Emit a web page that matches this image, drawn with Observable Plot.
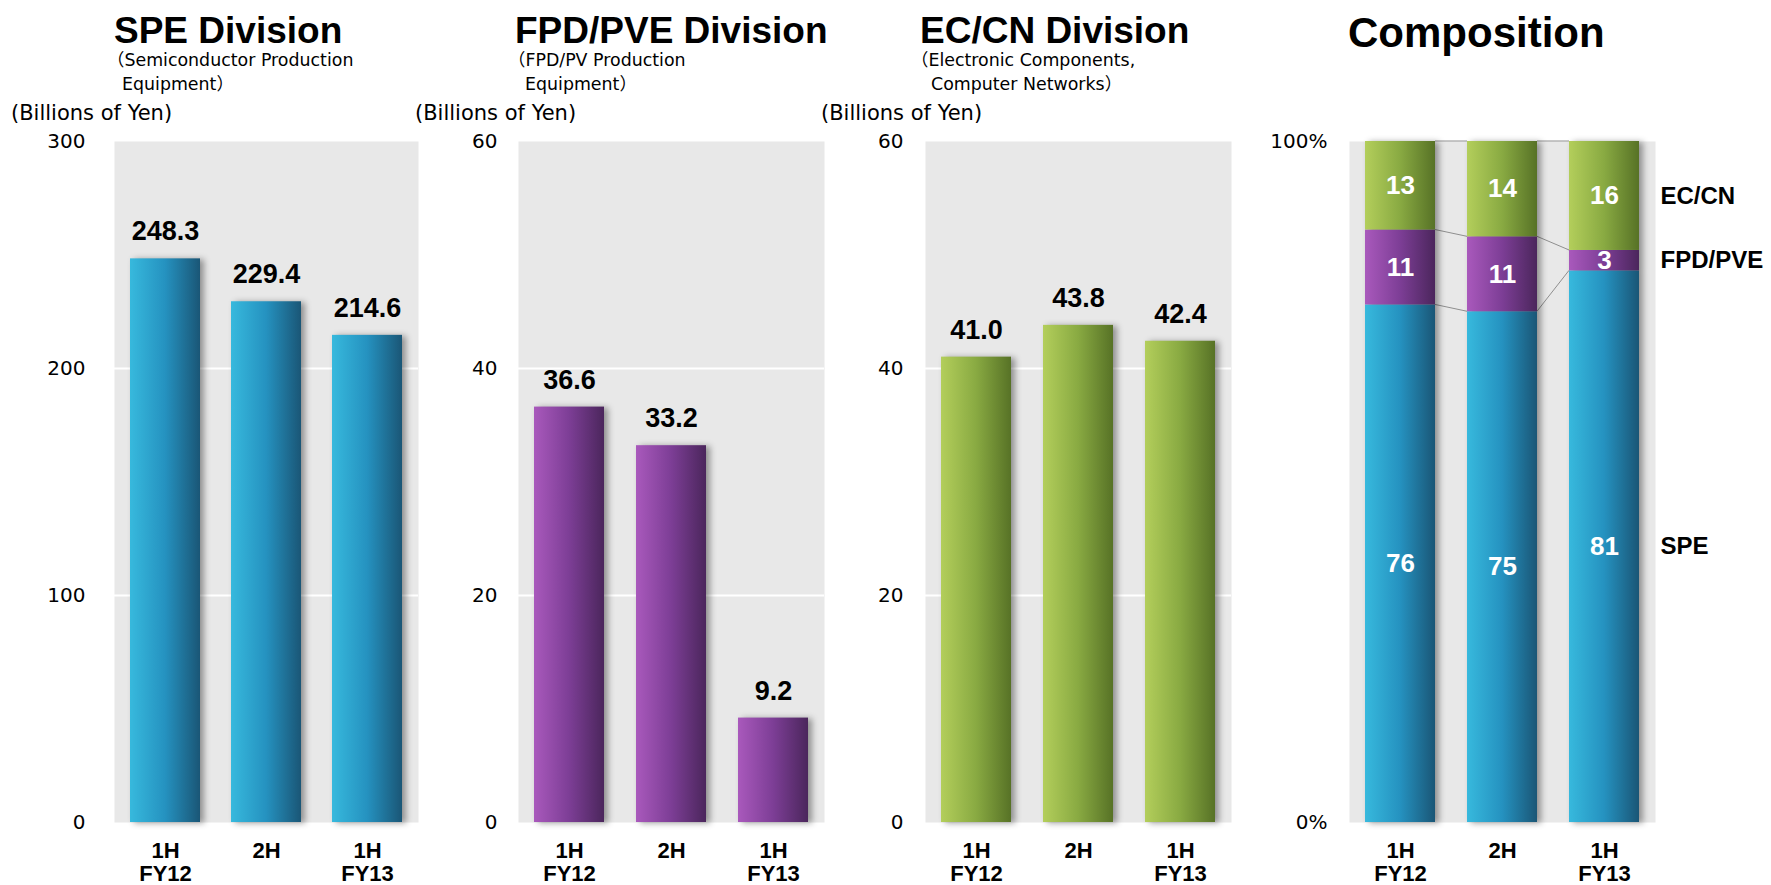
<!DOCTYPE html>
<html><head><meta charset="utf-8">
<script src="https://cdn.jsdelivr.net/npm/d3@7"></script>
<script src="https://cdn.jsdelivr.net/npm/@observablehq/plot@0.6"></script>
<style>
body{margin:0;background:#fff;}
#root{position:relative;width:1771px;height:885px;overflow:hidden;font-family:"Liberation Sans",Arial,sans-serif;color:#000;}
.abs{position:absolute;white-space:pre;}
.title{font-weight:bold;font-size:37px;line-height:1;}
.sub{font-family:"DejaVu Sans","Noto Sans CJK JP",sans-serif;font-size:17.4px;line-height:1;}
.unit{font-family:"DejaVu Sans",sans-serif;font-size:21px;line-height:1;}
</style></head><body><div id="root"></div>
<script>
// ---- data ----
const periods = ["1H\nFY12", "2H", "1H\nFY13"];
const speValues = [248.3, 229.4, 214.6];
const fpdValues = [36.6, 33.2, 9.2];
const ecValues = [41.0, 43.8, 42.4];
const speTicks = [0, 100, 200, 300];
const fpdTicks = [0, 20, 40, 60];
const ecTicks = [0, 20, 40, 60];
const divisions = ["SPE", "FPD/PVE", "EC/CN"];
const speShare = [76, 75, 81];
const fpdShare = [11, 11, 3];
const ecShare = [13, 14, 16];
const shareTicks = [0, 100];

// ---- styles ----
const gradients = {
  gSPE: ["#37b9dd", "#2592c0", "#1a5676"],
  gFPD: ["#a959bc", "#7d3e96", "#4b265c"],
  gEC: ["#b3ce5b", "#89aa42", "#577226"]
};
const root = d3.select("#root");
const defs = root.append("svg").attr("width", 0).attr("height", 0)
  .style("position", "absolute").append("defs");
for (const [id, cs] of Object.entries(gradients)) {
  const lg = defs.append("linearGradient").attr("id", id)
    .attr("x1", 0).attr("x2", 1).attr("y1", 0).attr("y2", 0);
  cs.forEach((c, i) => lg.append("stop").attr("offset", i / (cs.length - 1)).attr("stop-color", c));
}

function addText(cls, text, left, top, extra = {}) {
  const d = root.append("div").attr("class", "abs " + cls).style("left", left + "px").style("top", top + "px").text(text);
  for (const k in extra) d.style(k, extra[k]);
}

const ML = 100, MT = 21, MB = 63, H = 765, TOP = 120;
const svgStyle = {fontFamily: "DejaVu Sans", fontSize: "20px", background: "transparent", overflow: "visible", maxWidth: "none"};
const shadow = "drop-shadow(4px 1px 3px rgba(0,0,0,0.38))";

function place(svg, left) {
  d3.select(svg).selectAll('g[aria-label="bar"]').style("filter", shadow);
  root.append("div").style("position", "absolute").style("left", left + "px").style("top", TOP + "px")
    .node().appendChild(svg);
}

function xAxis() {
  return Plot.axisX({tickSize: 0, tickPadding: 19, fontSize: 22, fontWeight: "bold",
    fontFamily: "Liberation Sans", lineHeight: 1.04, label: null});
}

function divisionPanel(values, ticks, grad, frameLeft, frameWidth, tickPad) {
  const data = periods.map((p, i) => ({period: p, value: values[i]}));
  const svg = Plot.plot({
    width: ML + frameWidth, height: H,
    marginLeft: ML, marginRight: 0, marginTop: MT, marginBottom: MB,
    style: svgStyle,
    x: {domain: periods, paddingInner: 0.31, paddingOuter: 0.155, label: null},
    y: {domain: [ticks[0], ticks[ticks.length - 1]], label: null},
    marks: [
      Plot.frame({fill: "#e8e8e8", stroke: "none"}),
      Plot.gridY(ticks.slice(1, -1), {stroke: "white", strokeOpacity: 1, strokeWidth: 2}),
      Plot.axisY(ticks, {tickSize: 0, tickPadding: tickPad, fontSize: 20, label: null}),
      xAxis(),
      Plot.barY(data, {x: "period", y: "value", fill: `url(#${grad})`}),
      Plot.text(data, {x: "period", y: "value", text: d => d.value.toFixed(1), dy: -27,
        fontSize: 27, fontWeight: "bold", fontFamily: "Liberation Sans", fill: "black"})
    ]
  });
  place(svg, frameLeft - ML);
}

divisionPanel(speValues, speTicks, "gSPE", 114, 304, 29);
divisionPanel(fpdValues, fpdTicks, "gFPD", 518, 306, 21);
divisionPanel(ecValues, ecTicks, "gEC", 925, 306, 22);

// composition
const comp = periods.flatMap((p, i) => [
  {period: p, division: "SPE", share: speShare[i]},
  {period: p, division: "FPD/PVE", share: fpdShare[i]},
  {period: p, division: "EC/CN", share: ecShare[i]}
]);
function connectors(index, scales) {
  const x = scales.x, y = scales.y;
  const bw = x.bandwidth ? x.bandwidth() : 0;
  const g = d3.create("svg:g").attr("fill", "none").attr("stroke", "#8f8f8f").attr("stroke-width", 1);
  for (let i = 0; i < periods.length - 1; i++) {
    const a = [speShare[i] + fpdShare[i] + ecShare[i], speShare[i] + fpdShare[i], speShare[i]];
    const b = [speShare[i + 1] + fpdShare[i + 1] + ecShare[i + 1], speShare[i + 1] + fpdShare[i + 1], speShare[i + 1]];
    for (let k = 0; k < 3; k++) {
      g.append("line").attr("x1", x(periods[i]) + bw).attr("x2", x(periods[i + 1]))
        .attr("y1", y(a[k])).attr("y2", y(b[k]));
    }
  }
  return g.node();
}
const compSvg = Plot.plot({
  width: ML + 306 + 116, height: H,
  marginLeft: ML, marginRight: 116, marginTop: MT, marginBottom: MB,
  style: svgStyle,
  x: {domain: periods, paddingInner: 0.31, paddingOuter: 0.155, label: null},
  y: {domain: [0, 100], label: null},
  color: {domain: divisions, range: ["url(#gSPE)", "url(#gFPD)", "url(#gEC)"]},
  marks: [
    Plot.frame({fill: "#e8e8e8", stroke: "none"}),
    Plot.axisY(shareTicks, {tickSize: 0, tickPadding: 22, fontSize: 20, tickFormat: d => d + "%", label: null}),
    xAxis(),
    connectors,
    Plot.barY(comp, {x: "period", y: "share", fill: "division"}),
    Plot.text(comp, Plot.stackY({x: "period", y: "share", z: "division", text: d => String(d.share),
      fill: "white", fontSize: 26, fontWeight: "bold", fontFamily: "Liberation Sans"})),
    Plot.text(comp, Plot.stackY({filter: d => d.period === periods[periods.length - 1],
      x: "period", y: "share", z: "division", text: "division", textAnchor: "start", dx: 56,
      fill: "black", fontSize: 24, fontWeight: "bold", fontFamily: "Liberation Sans"}))
  ]
});
place(compSvg, 1349 - ML);

// titles & subtitles
addText("title", "SPE Division", 114, 12);
addText("title", "FPD/PVE Division", 515, 12);
addText("title", "EC/CN Division", 920, 12);
addText("title", "Composition", 1348, 12, {"font-size": "42px"});

addText("sub", "（Semiconductor Production", 107, 52);
addText("sub", "Equipment）", 122, 76);
addText("sub", "（FPD/PV Production", 508, 52);
addText("sub", "Equipment）", 525, 76);
addText("sub", "（Electronic Components,", 911, 52);
addText("sub", "Computer Networks）", 931, 76);

addText("unit", "(Billions of Yen)", 11, 103);
addText("unit", "(Billions of Yen)", 415, 103);
addText("unit", "(Billions of Yen)", 821, 103);
</script>
</body></html>
